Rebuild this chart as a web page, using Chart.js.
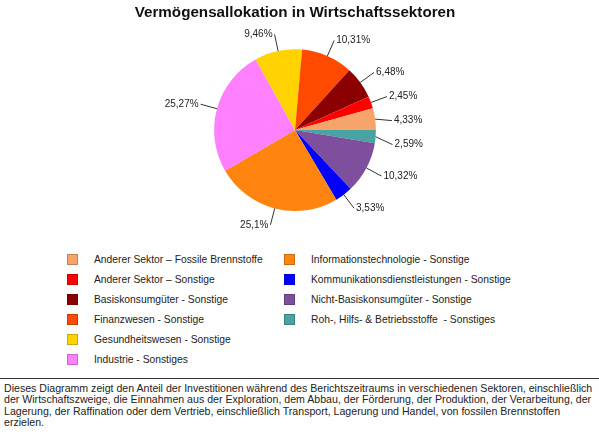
<!DOCTYPE html>
<html>
<head>
<meta charset="utf-8">
<script src="https://cdn.jsdelivr.net/npm/chart.js@4"></script>
<style>
	body { margin: 0; width: 599px; height: 440px; background: #fff; font-family: Arial, "Liberation Sans", sans-serif; color: #222; position: relative; overflow: hidden; }
	#chartBox { position: absolute; left: 0; top: 0; width: 599px; height: 230px; }
	#legend { position: absolute; left: 0; top: 0; }
	.item { position: absolute; font-size: 10.3px; line-height: 12px; white-space: pre; }
	.item i { position: absolute; left: 0; top: 0; width: 11px; height: 11px; border: 1px solid rgba(0,0,0,0.2); box-sizing: border-box; }
	.item span { position: absolute; left: 27px; top: 0; }
	#note { position: absolute; left: 0; top: 378px; width: 599px; border-top: 1px solid #333; padding: 4px 4px 0 4px; box-sizing: border-box; font-size: 10.6px; line-height: 11.4px; }
</style>
</head>
<body>
<div id="chartBox"><canvas id="pie"></canvas></div>
<div id="legend"></div>
<div id="note">Dieses Diagramm zeigt den Anteil der Investitionen während des Berichtszeitraums in verschiedenen Sektoren, einschließlich<br>der Wirtschaftszweige, die Einnahmen aus der Exploration, dem Abbau, der Förderung, der Produktion, der Verarbeitung, der<br>Lagerung, der Raffination oder dem Vertrieb, einschließlich Transport, Lagerung und Handel, von fossilen Brennstoffen<br>erzielen.</div>
<script>
const sectors = [
	'Anderer Sektor – Fossile Brennstoffe',
	'Anderer Sektor – Sonstige',
	'Basiskonsumgüter - Sonstige',
	'Finanzwesen - Sonstige',
	'Gesundheitswesen - Sonstige',
	'Industrie - Sonstiges',
	'Informationstechnologie - Sonstige',
	'Kommunikationsdienstleistungen - Sonstige',
	'Nicht-Basiskonsumgüter - Sonstige',
	'Roh-, Hilfs- & Betriebsstoffe  - Sonstiges',
]
const shares = [4.33, 2.45, 6.48, 10.31, 9.46, 25.27, 25.1, 3.53, 10.32, 2.59]
const sectorColors = [
	'#F7A46A', '#FF0000', '#8B0000', '#FF4A00', '#FFD200',
	'#FF80FF', '#FF8410', '#0000FF', '#7E4F9C', '#49A3A3',
]

// the reference goes counter-clockwise from 3 o'clock, Chart.js goes clockwise
const pieLabels = sectors.slice().reverse()
const pieData = shares.slice().reverse()
const pieColors = sectorColors.slice().reverse()

function fmt(v) {
	return String(v).replace('.', ',') + '%'
}

const outsideLabels = {
	id: 'outsideLabels',
	afterDatasetsDraw(chart) {
		const ctx = chart.ctx
		const meta = chart.getDatasetMeta(0)
		const items = meta.data.map((arc, i) => {
			const p = arc.getProps(['x', 'y', 'startAngle', 'endAngle', 'outerRadius'], true)
			const mid = (p.startAngle + p.endAngle) / 2
			const cos = Math.cos(mid), sin = Math.sin(mid)
			return {
				right: cos >= 0,
				x1: p.x + p.outerRadius * cos,
				y1: p.y + p.outerRadius * sin,
				x2: p.x + (p.outerRadius + 17) * cos,
				y2: p.y + (p.outerRadius + 17) * sin,
				text: fmt(chart.data.datasets[0].data[i]),
			}
		})
		// keep labels on the same side apart from each other
		;[true, false].forEach(side => {
			const list = items.filter(it => it.right === side).sort((a, b) => a.y2 - b.y2)
			for(let k = 1; k < list.length; k++) {
				if(list[k].y2 - list[k-1].y2 < 24) list[k].y2 = list[k-1].y2 + 24
			}
		})
		ctx.save()
		ctx.font = '10px Arial, "Liberation Sans", sans-serif'
		ctx.fillStyle = '#222'
		ctx.strokeStyle = '#333'
		ctx.lineWidth = 1
		ctx.textBaseline = 'middle'
		items.forEach(it => {
			ctx.beginPath()
			ctx.moveTo(it.x1, it.y1)
			ctx.lineTo(it.x2, it.y2)
			ctx.stroke()
			ctx.textAlign = it.right ? 'left' : 'right'
			ctx.fillText(it.text, it.x2 + (it.right ? 2 : -2), it.y2)
		})
		ctx.restore()
	}
}

new Chart(document.getElementById('pie'), {
	type: 'pie',
	data: {
		labels: pieLabels,
		datasets: [{
			data: pieData,
			backgroundColor: pieColors,
			borderWidth: 0,
			hoverOffset: 0,
		}]
	},
	plugins: [outsideLabels],
	options: {
		responsive: true,
		maintainAspectRatio: false,
		animation: false,
		rotation: 90,
		layout: {
			padding: { left: 0, right: 9, top: 0, bottom: 19 }
		},
		plugins: {
			legend: { display: false },
			tooltip: { enabled: false },
			title: {
				display: true,
				text: 'Vermögensallokation in Wirtschaftssektoren',
				color: '#111',
				font: { family: 'Arial, "Liberation Sans", sans-serif', size: 15.2, weight: 'bold' },
				padding: { top: 4, bottom: 27 }
			}
		}
	}
})

// legend in two columns, same order as the arrays
const legend = document.getElementById('legend')
sectors.forEach((name, i) => {
	const col = i < 6 ? 0 : 1
	const row = col ? i - 6 : i
	const el = document.createElement('div')
	el.className = 'item'
	el.style.left = (col ? 284 : 67) + 'px'
	el.style.top = (254 + row * 20) + 'px'
	el.innerHTML = '<i></i><span></span>'
	el.firstChild.style.background = sectorColors[i]
	el.lastChild.textContent = name
	legend.appendChild(el)
})
</script>
</body>
</html>
